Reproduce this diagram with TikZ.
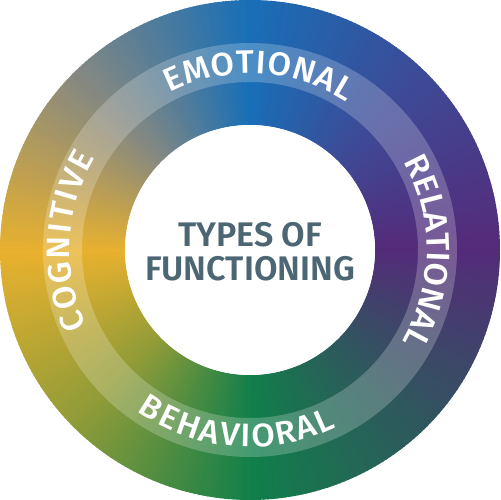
\documentclass[tikz,border=0pt]{standalone}
\usepackage{fontspec}
\setmainfont{Fira Sans}
\newfontfamily\ringfont[FakeStretch=1.05]{Fira Sans Medium}
\newfontfamily\titlefont[FakeStretch=1.0]{Fira Sans SemiBold}
\newcommand\ringsize{\fontsize{18.5}{20}\selectfont}
\usepackage{xcolor}
\usetikzlibrary{decorations.text}
\definecolor{ringpurple}{RGB}{84,43,122}
\definecolor{ringindigo}{RGB}{62,74,150}
\definecolor{ringblue}{RGB}{24,111,183}
\definecolor{ringgrey}{RGB}{135,137,128}
\definecolor{ringyellow}{RGB}{232,177,46}
\definecolor{ringolive}{RGB}{142,155,56}
\definecolor{ringgreen}{RGB}{17,127,74}
\definecolor{ringslate}{RGB}{48,86,94}
\definecolor{titlegray}{RGB}{77,102,116}
\newcommand\ringsector[3]{
  \pgfmathtruncatemacro{\e}{#1+44}
  \foreach \a in {#1,...,\e}
  {
    \pgfmathsetmacro{\p}{100*(\a-#1)/45}
    \fill[#3!\p!#2] (\a:125) arc (\a:\a+1.3:125) -- (\a+1.3:250) arc (\a+1.3:\a:250) -- cycle;
  }
}
\tikzset{
  ringlabel/.style={decorate,
    decoration={text along path, text={|\ringfont\ringsize|#1},
    text color=white, text align={fit to path}}},
  titletext/.style={align=center, text=titlegray, inner sep=0pt,
    font=\titlefont\fontsize{19.4}{19.3}\selectfont}
}
\begin{document}
\begin{tikzpicture}[x=0.02cm, y=0.02cm]
\useasboundingbox (-250,-250) rectangle (250,250);
\ringsector{0}{ringpurple}{ringindigo}
\ringsector{45}{ringindigo}{ringblue}
\ringsector{90}{ringblue}{ringgrey}
\ringsector{135}{ringgrey}{ringyellow}
\ringsector{180}{ringyellow}{ringolive}
\ringsector{225}{ringolive}{ringgreen}
\ringsector{270}{ringgreen}{ringslate}
\ringsector{315}{ringslate}{ringpurple}
\fill[white, fill opacity=0.22, even odd rule] (0,0) circle (207) (0,0) circle (168);
\fill[white] (0,0) circle (125);

\path[ringlabel=EMOTIONAL] (117:176.5) arc (117:57:176.5);
\path[ringlabel=RELATIONAL] (30:177) arc (30:-31:177);
\path[ringlabel=BEHAVIORAL] (235:197) arc (235:296:197);
\path[ringlabel=COGNITIVE] (205:180) arc (205:149:180);

\node[titletext] (title) at (0,-2) {TYPES OF\\FUNCTIONING};
\end{tikzpicture}
\end{document}
